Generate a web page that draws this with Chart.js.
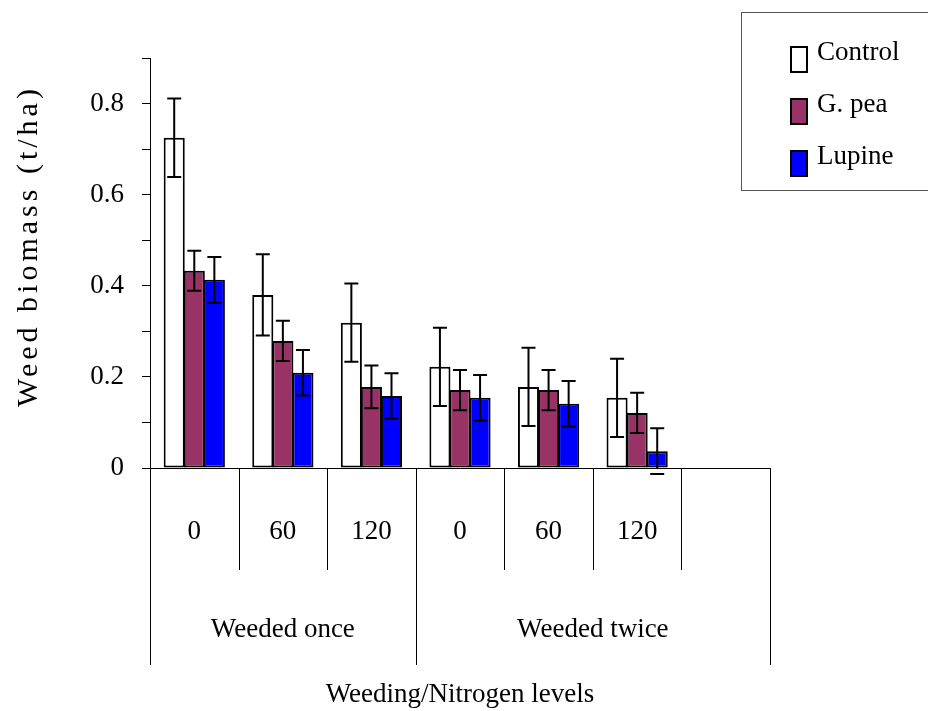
<!DOCTYPE html>
<html>
<head>
<meta charset="utf-8">
<script src="https://cdn.jsdelivr.net/npm/chart.js@4.4.1/dist/chart.umd.min.js"></script>
<style>
  html, body { margin: 0; padding: 0; background: #fff; }
  #wrap { width: 928px; height: 711px; position: relative; }
</style>
</head>
<body>
<div id="wrap"><canvas id="biomassChart"></canvas></div>
<script>
// 窒素レベル（各除草区分の中）
const nitrogenLevels = ['0', '60', '120', '0', '60', '120', ''];
const weedingGroups = ['Weeded once', 'Weeded twice'];
const groupSpans = [3, 4];

// 雑草バイオマス (t/ha)
const controlValues = [0.725, 0.380, 0.319, 0.222, 0.178, 0.154, null];
const gpeaValues = [0.433, 0.279, 0.178, 0.171, 0.171, 0.121, null];
const lupineValues = [0.413, 0.209, 0.158, 0.154, 0.141, 0.037, null];

// 誤差（±）
const controlErr = [0.086, 0.089, 0.086, 0.086, 0.086, 0.086, null];
const gpeaErr = [0.044, 0.044, 0.047, 0.044, 0.044, 0.044, null];
const lupineErr = [0.050, 0.050, 0.050, 0.050, 0.050, 0.050, null];

const yTickLabels = { 0: '0', 2: '0.2', 4: '0.4', 6: '0.6', 8: '0.8' };

const SERIF = '"Liberation Serif", "Times New Roman", serif';

// エラーバー
const errorBarPlugin = {
  id: 'errorBars',
  afterDatasetsDraw(chart) {
    const ctx = chart.ctx;
    const y = chart.scales.y;
    ctx.save();
    ctx.strokeStyle = '#000';
    ctx.lineWidth = 2;
    chart.data.datasets.forEach((ds, di) => {
      const meta = chart.getDatasetMeta(di);
      meta.data.forEach((bar, i) => {
        const v = ds.data[i];
        const e = ds.errors[i];
        if (v == null || e == null) return;
        const top = y.getPixelForValue(v + e);
        const bottom = y.getPixelForValue(v - e);
        const cap = 7;
        ctx.beginPath();
        ctx.moveTo(bar.x, top);
        ctx.lineTo(bar.x, Math.min(bottom, y.getPixelForValue(0)));
        ctx.moveTo(bar.x - cap, top);
        ctx.lineTo(bar.x + cap, top);
        ctx.moveTo(bar.x - cap, bottom);
        ctx.lineTo(bar.x + cap, bottom);
        ctx.stroke();
      });
    });
    ctx.restore();
  }
};

// 多段のX軸（区切り線と除草区分ラベル）、Y軸タイトル、凡例
const decorPlugin = {
  id: 'decor',
  afterDraw(chart) {
    const ctx = chart.ctx;
    const x = chart.scales.x;
    const area = chart.chartArea;
    const n = nitrogenLevels.length;
    const w = (x.right - x.left) / n;
    const groupEdges = [0];
    groupSpans.forEach(s => groupEdges.push(groupEdges[groupEdges.length - 1] + s));

    ctx.save();
    ctx.strokeStyle = '#000';
    ctx.lineWidth = 1;
    for (let k = 0; k <= n; k++) {
      const px = Math.round(x.left + k * w) + 0.5;
      const long = groupEdges.includes(k);
      ctx.beginPath();
      ctx.moveTo(px, area.bottom);
      ctx.lineTo(px, long ? 665 : 570);
      ctx.stroke();
    }

    ctx.fillStyle = '#000';
    ctx.font = '27px ' + SERIF;
    ctx.textAlign = 'center';
    ctx.textBaseline = 'middle';
    weedingGroups.forEach((g, gi) => {
      const cx = x.left + (groupEdges[gi] + groupEdges[gi + 1]) / 2 * w;
      ctx.fillText(g, cx, 630);
    });

    // Y軸タイトル
    ctx.save();
    ctx.translate(29, 246);
    ctx.rotate(-Math.PI / 2);
    ctx.font = '30px ' + SERIF;
    if ('letterSpacing' in ctx) ctx.letterSpacing = '4px';
    ctx.fillText('Weed biomass (t/ha)', 0, 0);
    ctx.restore();

    // 凡例
    ctx.strokeStyle = '#555';
    ctx.strokeRect(741.5, 12.5, 200, 178);
    ctx.textAlign = 'left';
    ctx.font = '27px ' + SERIF;
    chart.data.datasets.forEach((ds, i) => {
      const top = 47 + i * 52;
      ctx.fillStyle = ds.backgroundColor;
      ctx.fillRect(791, top, 16, 25);
      ctx.strokeStyle = '#000';
      ctx.lineWidth = 2;
      ctx.strokeRect(791, top, 16, 25);
      ctx.fillStyle = '#000';
      ctx.fillText(ds.label, 817, top + 6);
    });
    ctx.restore();
  }
};

const barStyle = {
  borderColor: '#000',
  borderWidth: 2,
  borderSkipped: false,
  categoryPercentage: 0.68,
  barPercentage: 1.05
};

new Chart(document.getElementById('biomassChart'), {
  type: 'bar',
  data: {
    labels: nitrogenLevels,
    datasets: [
      { label: 'Control', data: controlValues, errors: controlErr, backgroundColor: '#ffffff', ...barStyle },
      { label: 'G. pea', data: gpeaValues, errors: gpeaErr, backgroundColor: '#993366', ...barStyle },
      { label: 'Lupine', data: lupineValues, errors: lupineErr, backgroundColor: '#0000ff', ...barStyle }
    ]
  },
  options: {
    responsive: true,
    maintainAspectRatio: false,
    animation: false,
    layout: { padding: { top: 58, right: 158, left: 0, bottom: 0 } },
    plugins: {
      legend: { display: false },
      tooltip: { enabled: false }
    },
    scales: {
      x: {
        grid: { display: false, drawTicks: false },
        border: { display: true, color: '#000', width: 1 },
        ticks: {
          color: '#000',
          font: { family: SERIF, size: 27 },
          padding: 48,
          maxRotation: 0,
          autoSkip: false
        },
        title: {
          display: true,
          text: 'Weeding/Nitrogen levels',
          color: '#000',
          font: { family: SERIF, size: 27 },
          padding: { top: 0, bottom: 0 }
        },
        afterFit(scale) { scale.height = 243; }
      },
      y: {
        min: 0,
        max: 0.9,
        grid: {
          drawOnChartArea: false,
          drawTicks: true,
          tickLength: 8,
          color: '#000'
        },
        border: { display: true, color: '#000', width: 1 },
        ticks: {
          stepSize: 0.1,
          color: '#000',
          padding: 18,
          font: { family: SERIF, size: 27 },
          callback: (v) => {
            const k = Math.round(v * 10);
            return yTickLabels[k] !== undefined ? yTickLabels[k] : '';
          }
        },
        afterFit(scale) { scale.width = 150; }
      }
    }
  },
  plugins: [errorBarPlugin, decorPlugin]
});
</script>
</body>
</html>
